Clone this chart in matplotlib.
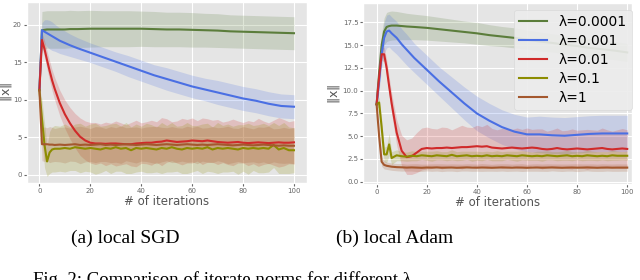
import matplotlib
matplotlib.use('Agg')
import matplotlib.pyplot as plt

plt.style.use('ggplot')

# iteration grids
it_fine = [0, 1, 2, 3, 4, 5, 6] + list(range(8, 101, 2))
it_coarse = [0, 1, 2, 3, 4, 5, 6, 8, 10, 12, 15] + list(range(20, 101, 5))

labels = ['λ=0.0001', 'λ=0.001', 'λ=0.01', 'λ=0.1', 'λ=1']
colors = ['#5b7d3b', '#4a6fe3', '#d02a2a', '#8c8c00', '#a4582e']

# ---- (a) local SGD ----
sgd_g_mean = [11.3, 19.3, 19.35, 19.4, 19.4, 19.4, 19.4, 19.4, 19.4, 19.45, 19.45, 19.5, 19.5, 19.5,
              19.5, 19.5, 19.45, 19.4, 19.4, 19.35, 19.3, 19.25, 19.15, 19.1, 19.05, 19.0, 18.95, 18.9]
sgd_g_sd = [0.3, 2.5, 2.5, 2.5, 2.5, 2.5, 2.5, 2.5, 2.5, 2.5, 2.45, 2.45, 2.4, 2.4,
            2.4, 2.35, 2.35, 2.3, 2.3, 2.3, 2.25, 2.25, 2.2, 2.2, 2.2, 2.2, 2.2, 2.2]
sgd_b_mean = [11.3, 19.3, 19.1, 18.9, 18.7, 18.5, 18.3, 17.9, 17.6, 17.3, 16.9, 16.3, 15.7, 15.1,
              14.5, 13.9, 13.3, 12.8, 12.3, 11.8, 11.4, 11.0, 10.6, 10.2, 9.9, 9.5, 9.2, 9.1]
sgd_b_sd = [0.3, 1.0, 1.6, 1.8, 1.9, 1.9, 1.8, 1.7, 1.6, 1.5, 1.4, 1.3, 1.3, 1.3,
            1.4, 1.4, 1.4, 1.5, 1.5, 1.5, 1.5, 1.6, 1.6, 1.6, 1.6, 1.6, 1.6, 1.6]
sgd_r_mean = [11.3, 18.0, 16.8, 15.3, 13.9, 12.6, 11.5, 9.6, 8.1, 6.9, 5.9, 5.1, 4.6, 4.3,
              4.2, 4.2, 4.15, 4.2, 4.2, 4.15, 4.1, 4.1, 4.2, 4.25, 4.3, 4.3, 4.4, 4.45,
              4.6, 4.5, 4.4, 4.45, 4.5, 4.6, 4.55, 4.5, 4.6, 4.5, 4.4, 4.35, 4.3, 4.35,
              4.4, 4.3, 4.25, 4.3, 4.35, 4.3, 4.25, 4.3, 4.35, 4.3, 4.3, 4.35]
sgd_r_sd = [0.3, 1.0, 1.1, 1.2, 1.3, 1.4, 1.5, 1.7, 1.9, 2.1, 2.3, 2.5, 2.6, 2.7,
            2.8, 2.6, 2.9, 2.7, 3.0, 2.8, 2.6, 2.9, 3.1, 2.7, 2.8, 3.0, 2.7, 3.2,
            2.9, 2.6, 2.8, 3.1, 2.9, 3.0, 2.7, 3.1, 2.9, 2.8, 3.0, 2.7, 2.9, 3.1,
            2.8, 2.7, 3.0, 2.8, 3.2, 2.9, 2.7, 3.0, 3.3, 3.1, 2.8, 2.9]
sgd_o_mean = [11.3, 7.5, 4.0, 1.8, 3.0, 3.4, 3.5, 3.5, 3.6, 3.5, 3.7, 3.6, 3.5, 3.6,
              3.5, 3.4, 3.6, 3.5, 3.7, 3.5, 3.6, 3.3, 3.6, 3.5, 3.6, 3.5, 3.4, 3.6,
              3.5, 3.7, 3.5, 3.4, 3.6, 3.5, 3.6, 3.5, 3.7, 3.4, 3.6, 3.5, 3.6, 3.5,
              3.4, 3.6, 3.5, 3.6, 3.5, 3.6, 3.5, 4.0, 3.4, 3.6, 3.3, 3.3]
sgd_o_sd = [0.3, 2.5, 3.0, 2.0, 2.8, 3.0, 3.1, 3.0, 3.2, 2.9, 3.1, 3.3, 3.0, 3.2,
            3.4, 3.1, 3.0, 3.3, 3.2, 3.0, 3.4, 3.1, 3.2, 3.0, 3.3, 3.2, 3.0, 3.4,
            3.1, 3.3, 3.0, 3.2, 3.4, 3.1, 3.0, 3.3, 3.2, 3.0, 3.4, 3.1, 3.2, 3.0,
            3.3, 3.1, 3.4, 3.0, 3.2, 3.3, 3.1, 3.0, 3.2, 3.4, 3.1, 3.0]
sgd_n_mean = [11.3, 4.1, 4.1, 4.1, 4.05, 4.05, 4.0, 4.05, 4.0, 4.05, 4.1, 4.0, 4.05, 4.0,
              4.05, 4.1, 4.0, 4.05, 4.0, 4.05, 4.1, 4.05, 4.0, 4.05, 4.1, 4.05, 4.0, 4.05,
              4.1, 4.05, 4.0, 4.05, 4.1, 4.05, 4.0, 4.05, 4.0, 4.05, 4.1, 4.05, 4.0, 3.95,
              4.0, 4.05, 4.0, 3.95, 4.0, 4.05, 4.0, 3.95, 3.9, 3.95, 3.9, 3.9]
sgd_n_sd = [0.3, 2.2, 2.3, 2.2, 2.4, 2.3, 2.2, 2.3, 2.4, 2.2, 2.3, 2.5, 2.3, 2.2,
            2.4, 2.3, 2.2, 2.4, 2.3, 2.5, 2.2, 2.3, 2.4, 2.2, 2.3, 2.4, 2.5, 2.3,
            2.2, 2.4, 2.3, 2.2, 2.4, 2.3, 2.5, 2.2, 2.3, 2.4, 2.2, 2.3, 2.5, 2.3,
            2.2, 2.4, 2.3, 2.2, 2.4, 2.3, 2.5, 2.2, 2.3, 2.4, 2.3, 2.4]

# ---- (b) local Adam ----
adam_g_mean = [8.5, 12.0, 15.0, 16.5, 17.0, 17.1, 17.15, 17.15, 17.1, 17.05, 17.0, 16.9, 16.75, 16.6,
               16.45, 16.3, 16.1, 15.95, 15.8, 15.6, 15.4, 15.25, 15.05, 14.9, 14.7, 14.55, 14.4, 14.2]
adam_g_sd = [0.3, 1.0, 1.3, 1.5, 1.6, 1.6, 1.6, 1.55, 1.5, 1.45, 1.4, 1.35, 1.3, 1.25,
             1.2, 1.2, 1.15, 1.1, 1.1, 1.05, 1.05, 1.0, 1.0, 1.0, 1.0, 1.0, 1.0, 1.0]
adam_b_mean = [8.5, 11.0, 14.0, 15.8, 16.5, 16.6, 16.3, 15.8, 15.1, 14.5, 13.6, 12.3, 11.0, 9.8,
               8.6, 7.5, 6.7, 6.0, 5.5, 5.2, 5.2, 5.1, 5.05, 5.15, 5.25, 5.3, 5.3, 5.3]
adam_b_sd = [0.3, 1.0, 1.4, 1.7, 1.8, 1.8, 1.8, 1.8, 1.7, 1.7, 1.6, 1.6, 1.6, 1.7,
             1.8, 1.9, 1.9, 1.9, 1.9, 1.9, 2.0, 2.0, 2.0, 2.0, 2.0, 2.0, 2.0, 2.0]
adam_r_mean = [8.5, 11.5, 14.0, 14.0, 12.5, 10.5, 8.6, 5.4, 3.4, 2.7, 2.8, 3.2, 3.6, 3.7,
               3.65, 3.7, 3.7, 3.75, 3.7, 3.75, 3.8, 3.8, 3.85, 3.9, 3.85, 3.9, 3.75, 3.7,
               3.65, 3.7, 3.75, 3.7, 3.65, 3.7, 3.75, 3.7, 3.6, 3.55, 3.6, 3.7, 3.6, 3.55,
               3.6, 3.65, 3.6, 3.55, 3.6, 3.65, 3.7, 3.6, 3.55, 3.6, 3.65, 3.6]
adam_r_sd = [0.3, 0.6, 0.7, 0.8, 0.9, 1.0, 1.1, 1.4, 1.7, 1.9, 2.0, 2.2, 2.3, 2.3,
             2.2, 2.1, 2.3, 2.2, 2.0, 2.2, 2.4, 2.2, 2.1, 2.3, 2.2, 2.4, 2.1, 2.0,
             2.2, 2.1, 2.0, 2.2, 2.1, 2.2, 2.0, 2.1, 2.2, 2.0, 2.1, 2.2, 2.0, 2.1,
             2.2, 2.0, 2.1, 2.2, 2.1, 2.0, 2.2, 2.1, 2.0, 2.1, 2.2, 2.1]
adam_o_mean = [8.5, 8.7, 6.0, 3.0, 3.0, 4.1, 2.6, 2.9, 2.8, 2.75, 2.85, 2.8, 2.9, 2.85,
               2.8, 2.9, 2.85, 2.8, 2.95, 2.8, 2.85, 2.9, 2.8, 2.85, 2.8, 2.9, 2.8, 2.85,
               2.8, 2.9, 2.85, 2.8, 2.9, 2.85, 2.8, 2.85, 2.8, 2.9, 2.85, 2.8, 2.85, 2.9,
               2.8, 2.85, 2.8, 2.9, 2.85, 2.8, 2.85, 2.8, 2.9, 2.85, 2.85, 2.85]
adam_o_sd = [0.3, 0.6, 0.9, 0.8, 0.9, 1.2, 0.7, 0.6, 0.5, 0.5, 0.55, 0.5, 0.45, 0.5,
             0.55, 0.5, 0.45, 0.5, 0.55, 0.5, 0.5, 0.45, 0.55, 0.5, 0.5, 0.45, 0.5, 0.55,
             0.5, 0.45, 0.5, 0.55, 0.5, 0.5, 0.45, 0.5, 0.55, 0.5, 0.45, 0.5, 0.5, 0.55,
             0.5, 0.45, 0.5, 0.55, 0.5, 0.5, 0.45, 0.5, 0.55, 0.5, 0.45, 0.5]
adam_n_mean = [8.5, 5.0, 2.2, 1.85, 1.75, 1.7, 1.65, 1.6, 1.58, 1.55, 1.57, 1.55, 1.53, 1.56,
               1.55, 1.57, 1.54, 1.55, 1.56, 1.53, 1.55, 1.57, 1.55, 1.54, 1.56, 1.55, 1.53, 1.55,
               1.57, 1.55, 1.54, 1.56, 1.55, 1.53, 1.55, 1.56, 1.54, 1.55, 1.57, 1.55, 1.53, 1.55,
               1.56, 1.54, 1.55, 1.57, 1.55, 1.53, 1.55, 1.56, 1.54, 1.55, 1.55, 1.55]
adam_n_sd = [0.3, 0.8, 0.5, 0.45, 0.4, 0.4, 0.4, 0.4, 0.42, 0.38, 0.4, 0.43, 0.4, 0.38,
             0.41, 0.4, 0.43, 0.39, 0.4, 0.42, 0.38, 0.4, 0.41, 0.39, 0.43, 0.4, 0.38, 0.41,
             0.4, 0.42, 0.39, 0.4, 0.43, 0.38, 0.4, 0.41, 0.4, 0.42, 0.38, 0.4, 0.41, 0.39,
             0.4, 0.43, 0.4, 0.38, 0.41, 0.4, 0.42, 0.39, 0.4, 0.41, 0.4, 0.4]

panels = [
    [(it_coarse, sgd_g_mean, sgd_g_sd), (it_coarse, sgd_b_mean, sgd_b_sd),
     (it_fine, sgd_r_mean, sgd_r_sd), (it_fine, sgd_o_mean, sgd_o_sd),
     (it_fine, sgd_n_mean, sgd_n_sd)],
    [(it_coarse, adam_g_mean, adam_g_sd), (it_coarse, adam_b_mean, adam_b_sd),
     (it_fine, adam_r_mean, adam_r_sd), (it_fine, adam_o_mean, adam_o_sd),
     (it_fine, adam_n_mean, adam_n_sd)],
]


def draw(ax, series, ylab_x):
    for (x, m, s), c, lab in zip(series, colors, labels):
        lo = [a - b for a, b in zip(m, s)]
        hi = [a + b for a, b in zip(m, s)]
        ax.fill_between(x, lo, hi, color=c, alpha=0.2, lw=0)
        ax.plot(x, m, color=c, lw=1.5, label=lab)
    ax.tick_params(labelsize=5, length=2, colors='#666666', pad=1.5)
    ax.set_xlabel('# of iterations', fontsize=8.5, color='#555555', labelpad=1)
    ax.set_ylabel(r'$\Vert \mathrm{x} \Vert$', fontsize=9, color='#555555')
    ax.yaxis.set_label_coords(ylab_x, 0.5)


fig = plt.figure(figsize=(6.4, 2.8), dpi=100)
fig.patch.set_facecolor('white')

ax1 = fig.add_axes([0.0417, 0.3464, 0.4375, 0.6475])
draw(ax1, panels[0], -0.046)
ax1.set_xlim(-5, 105)
ax1.set_ylim(-1.07, 23.1)
ax1.set_xticks([0, 20, 40, 60, 80, 100])
ax1.set_yticks([0, 5, 10, 15, 20])

ax2 = fig.add_axes([0.5677, 0.3429, 0.4198, 0.6454])
draw(ax2, panels[1], -0.08)
ax2.set_xlim(-5.3, 101.9)
ax2.set_ylim(-0.25, 19.6)
ax2.set_xticks([0, 20, 40, 60, 80, 100])
ax2.set_yticks([0, 2.5, 5, 7.5, 10, 12.5, 15, 17.5])
leg = ax2.legend(loc='upper right', bbox_to_anchor=(1.0, 0.965), borderaxespad=0,
                 fontsize=10, handlelength=2.0, labelspacing=0.35,
                 facecolor='#ececec', edgecolor='#d8d8d8', framealpha=0.9)
for t in leg.get_texts():
    t.set_color('black')

serif = ['Liberation Serif', 'DejaVu Serif']
fig.text(125 / 640, 1 - 243 / 280, '(a) local SGD', ha='center', va='baseline',
         fontsize=14, family=serif)
fig.text(395 / 640, 1 - 243 / 280, '(b) local Adam', ha='center', va='baseline',
         fontsize=14, family=serif)
fig.text(33 / 640, 1 - 285 / 280, 'Fig. 2: Comparison of iterate norms for different λ',
         ha='left', va='baseline', fontsize=13.5, family=serif)

fig.savefig('out.png', dpi=100)
